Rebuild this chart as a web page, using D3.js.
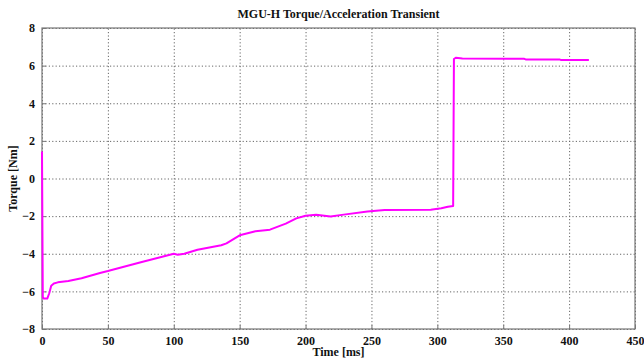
<!DOCTYPE html>
<html>
<head>
<meta charset="utf-8">
<script src="https://d3js.org/d3.v7.min.js"></script>
<style>
  body { margin: 0; background: #fff; }
  text { font-family: "Liberation Serif", "Times New Roman", serif; font-weight: bold; }
  .grid line { stroke: #666; stroke-dasharray: 1.2,2.2; stroke-width: 1; }
  .grid path { display: none; }
  .axis path, .axis line { stroke: #777; }
</style>
</head>
<body>
<div id="chart"></div>
<script>
// Transient data
const timeMs = [0, 0.6, 1.2, 4, 5.5, 7, 9, 12, 20, 30, 44, 50, 75, 100, 103, 108, 118, 136, 140, 150,
  162, 173, 185, 193, 200, 208, 219, 229, 247, 260, 295, 303, 308, 312, 312.6, 314, 319, 366, 367, 393, 394, 415];
const torqueNm = [1.43, -6.3, -6.38, -6.38, -6.1, -5.7, -5.58, -5.52, -5.45, -5.3, -5.02, -4.92, -4.45, -4.0, -4.05, -4.0, -3.79, -3.55, -3.45, -3.02,
  -2.8, -2.72, -2.4, -2.12, -1.98, -1.93, -2.02, -1.92, -1.76, -1.68, -1.66, -1.58, -1.5, -1.46, 6.35, 6.42, 6.38, 6.36, 6.33, 6.32, 6.3, 6.3];
const xTicks = [0, 50, 100, 150, 200, 250, 300, 350, 400, 450];
const yTicks = [-8, -6, -4, -2, 0, 2, 4, 6, 8];

const W = 644, H = 360;
const margin = {top: 28, right: 9, bottom: 31, left: 42};
const width = W - margin.left - margin.right,
  height = H - margin.top - margin.bottom;

const svg = d3.select("#chart").append("svg")
  .attr("width", W)
  .attr("height", H);

const g = svg.append("g")
  .attr("transform", `translate(${margin.left},${margin.top})`);

const x = d3.scaleLinear().domain([0, 450]).range([0, width]);
const y = d3.scaleLinear().domain([-8, 8]).range([height, 0]);

// dotted grid
g.append("g").attr("class", "grid")
  .attr("transform", `translate(0,${height})`)
  .call(d3.axisBottom(x).tickValues(xTicks).tickSize(-height).tickFormat(""));
g.append("g").attr("class", "grid")
  .call(d3.axisLeft(y).tickValues(yTicks).tickSize(-width).tickFormat(""));

// box
g.append("rect")
  .attr("width", width).attr("height", height)
  .attr("fill", "none").attr("stroke", "#777").attr("stroke-width", 1.2);

// axes with inward ticks
const xAxis = g.append("g").attr("class", "axis")
  .attr("transform", `translate(0,${height})`)
  .call(d3.axisBottom(x).tickValues(xTicks).tickSizeInner(-4).tickSizeOuter(0).tickPadding(7));
xAxis.select(".domain").remove();
xAxis.selectAll("text").attr("font-size", 12).attr("fill", "#111");

const yAxis = g.append("g").attr("class", "axis")
  .call(d3.axisLeft(y).tickValues(yTicks).tickSizeInner(-4).tickSizeOuter(0).tickPadding(7));
yAxis.select(".domain").remove();
yAxis.selectAll("text").attr("font-size", 12).attr("fill", "#111");

// line
const line = d3.line()
  .x((d, i) => x(timeMs[i]))
  .y(d => y(d));

g.append("path")
  .datum(torqueNm)
  .attr("fill", "none")
  .attr("stroke", "#ff00ff")
  .attr("stroke-width", 2)
  .attr("stroke-linejoin", "round")
  .attr("d", line);

// title and labels
svg.append("text")
  .attr("x", margin.left + width / 2).attr("y", 18)
  .attr("text-anchor", "middle").attr("font-size", 12).attr("fill", "#111")
  .text("MGU-H Torque/Acceleration Transient");

svg.append("text")
  .attr("x", margin.left + width / 2).attr("y", 356)
  .attr("text-anchor", "middle").attr("font-size", 12).attr("fill", "#111")
  .text("Time [ms]");

svg.append("text")
  .attr("transform", `translate(17,${margin.top + height / 2}) rotate(-90)`)
  .attr("text-anchor", "middle").attr("font-size", 12).attr("fill", "#111")
  .text("Torque [Nm]");
</script>
</body>
</html>
